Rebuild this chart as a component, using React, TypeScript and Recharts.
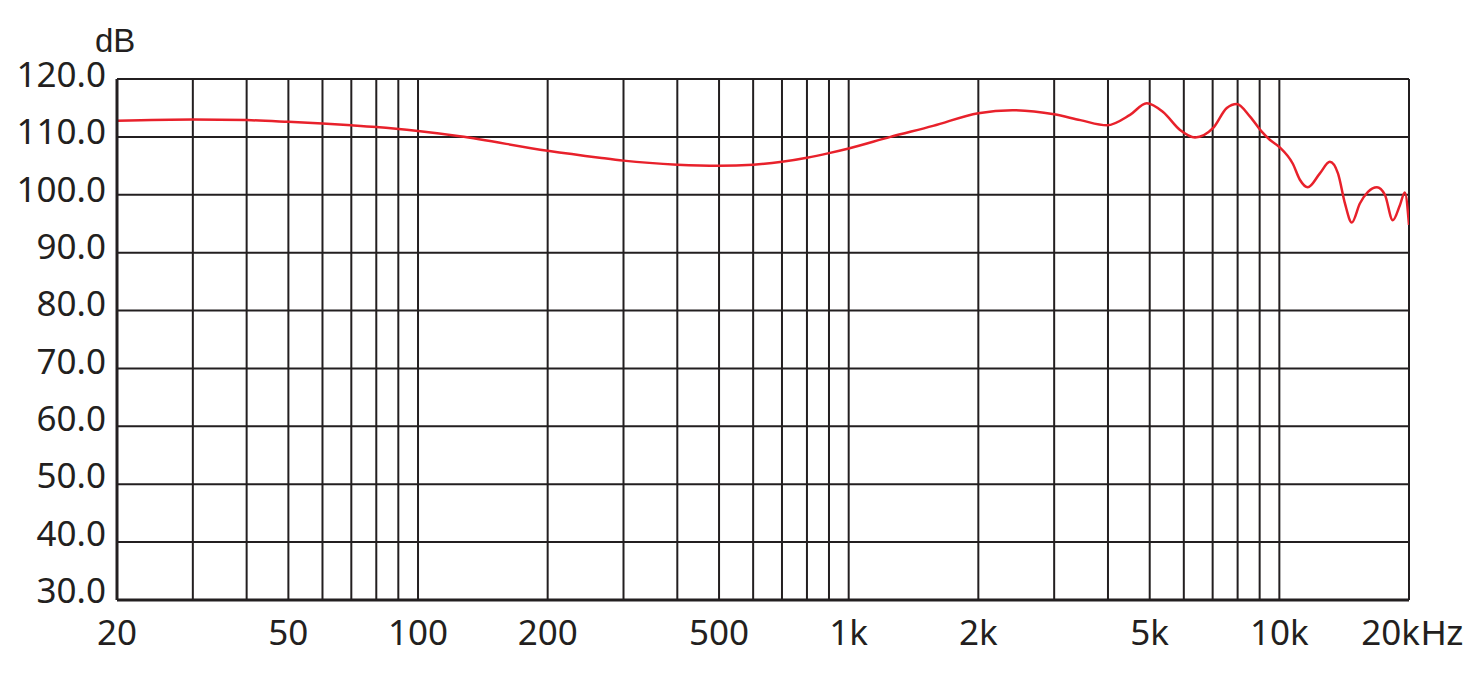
import React from "react";
import { LineChart, Line, XAxis, YAxis, CartesianGrid } from "recharts";

// frequency (Hz) and level (dB)
const FREQS = [
  20, 30, 40, 50, 60, 70, 80, 100, 125, 200, 264, 300, 400, 500, 600, 700, 800,
  900, 1000, 1250, 1570, 2000, 2400, 3000, 3450, 3980, 4500, 4920, 5370, 5880,
  6370, 7010, 7550, 7960, 8550, 9100, 9500, 10020, 10740, 11160, 11640, 12420,
  13100, 13680, 14200, 14730, 15380, 16060, 16850, 17580, 18340, 19050, 19560,
  20000,
];
const SPL_DB = [
  112.8, 113.0, 112.9, 112.6, 112.3, 112.0, 111.7, 111.0, 110.1, 107.6, 106.4,
  105.9, 105.2, 105.0, 105.2, 105.7, 106.4, 107.2, 108.0, 110.0, 111.9, 114.1,
  114.6, 113.9, 112.9, 112.0, 113.8, 115.8, 114.3, 111.2, 109.9, 111.5, 115.0,
  115.7, 113.5, 110.9, 109.5, 108.2, 105.4, 102.6, 101.3, 103.7, 105.7, 103.7,
  98.5, 95.2, 98.5, 100.5, 101.3, 100.0, 95.6, 98.2, 100.4, 94.8,
];

const GRID_FREQS = [
  20, 30, 40, 50, 60, 70, 80, 90, 100, 200, 300, 400, 500, 600, 700, 800, 900,
  1000, 2000, 3000, 4000, 5000, 6000, 7000, 8000, 9000, 10000, 20000,
];
const FREQ_LABELS: Record<number, string> = {
  20: "20",
  50: "50",
  100: "100",
  200: "200",
  500: "500",
  1000: "1k",
  2000: "2k",
  5000: "5k",
  10000: "10k",
  20000: "20k",
};
const DB_TICKS = [30, 40, 50, 60, 70, 80, 90, 100, 110, 120];

const data = FREQS.map((f, i) => ({ freq: f, db: SPL_DB[i] }));

const INK = "#231f20";
const TICK_FONT = "'Noto Sans', sans-serif";
const UNIT_FONT = "'Liberation Sans', Arial, sans-serif";

const FreqTick = ({ x, y, payload }: any) => {
  const label = FREQ_LABELS[payload.value];
  if (!label) return null;
  if (payload.value === 20000) {
    return (
      <g>
        <text x={x + 11} y={y + 45} textAnchor="end" fontFamily={TICK_FONT} fontSize={35} fill={INK}>
          {label}
        </text>
        <text x={x + 12} y={y + 45} fontFamily={UNIT_FONT} fontSize={35} fill={INK}>
          Hz
        </text>
      </g>
    );
  }
  return (
    <text x={x} y={y + 45} textAnchor="middle" fontFamily={TICK_FONT} fontSize={35} fill={INK}>
      {label}
    </text>
  );
};

const DbTick = ({ x, y, payload }: any) => {
  const shift = 8 - ((120 - payload.value) / 90) * 5;
  return (
    <text x={x - 11} y={y + shift} textAnchor="end" fontFamily={TICK_FONT} fontSize={35} fill={INK}>
      {payload.value.toFixed(1)}
    </text>
  );
};

export default function App() {
  return (
    <div style={{ position: "absolute", left: 0, top: 0, width: 1477, height: 689, background: "#fff" }}>
      <LineChart
        width={1477}
        height={689}
        data={data}
        margin={{ top: 79, right: 68, left: 0, bottom: 29 }}
      >
        <CartesianGrid stroke={INK} strokeWidth={2} strokeOpacity={1} />
        <XAxis
          dataKey="freq"
          type="number"
          scale="log"
          domain={[20, 20000]}
          ticks={GRID_FREQS}
          interval={0}
          allowDataOverflow
          height={60}
          tickSize={0}
          tickMargin={0}
          tickLine={false}
          axisLine={{ stroke: INK, strokeWidth: 3 }}
          tick={<FreqTick />}
        />
        <YAxis
          type="number"
          domain={[30, 120]}
          ticks={DB_TICKS}
          interval={0}
          width={117}
          tickSize={0}
          tickMargin={0}
          tickLine={false}
          axisLine={{ stroke: INK, strokeWidth: 3 }}
          tick={<DbTick />}
        />
        <Line
          type="monotone"
          dataKey="db"
          stroke="#e8212b"
          strokeWidth={2.5}
          dot={false}
          isAnimationActive={false}
        />
      </LineChart>
      <svg
        width={1477}
        height={689}
        style={{ position: "absolute", left: 0, top: 0, pointerEvents: "none" }}
      >
        <text x={95} y={52} fontFamily={UNIT_FONT} fontSize={33} fill={INK}>
          dB
        </text>
      </svg>
    </div>
  );
}
